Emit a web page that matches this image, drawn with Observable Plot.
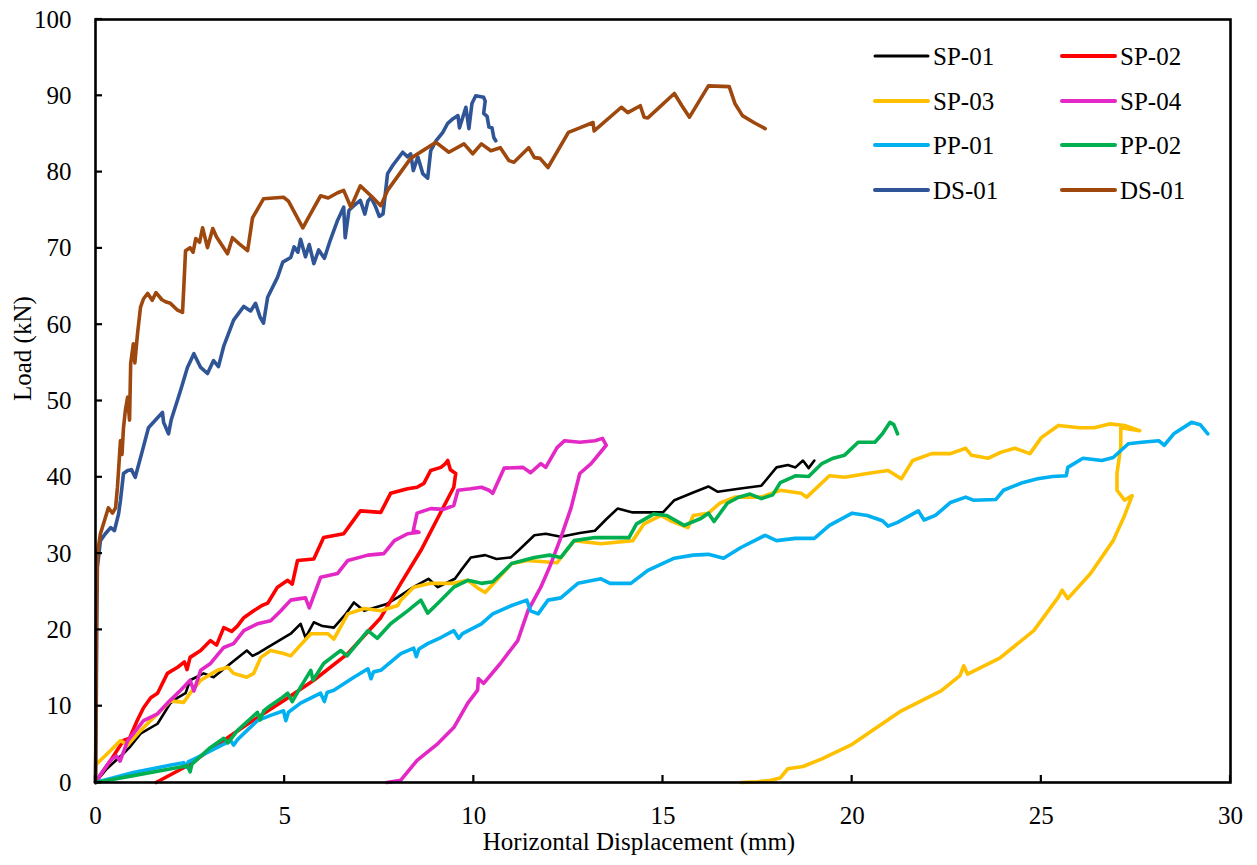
<!DOCTYPE html>
<html><head><meta charset="utf-8">
<script src="https://cdn.jsdelivr.net/npm/d3@7"></script>
<script src="https://cdn.jsdelivr.net/npm/@observablehq/plot@0.6"></script>
<style>body{margin:0;background:#fff} #chart{width:1257px;height:865px}</style>
</head><body><div id="chart"></div>
<script>
// Tick values
const xTicks = [0, 5, 10, 15, 20, 25, 30];
const yTicks = [0, 10, 20, 30, 40, 50, 60, 70, 80, 90, 100];

// Series labels (legend order)
const seriesLabels = ["SP-01", "SP-02", "SP-03", "SP-04", "PP-01", "PP-02", "DS-01", "DS-01"];

// [displacement mm, load kN]
const sp01 = [[0,0],[0.3,1.8],[0.74,3.8],[0.9,4.6],[1.19,6.4],[1.64,7.7],[1.98,10.4],[2.2,11.2],[2.38,11.7],[2.5,13.4],[2.86,14.3],[3.12,13.8],[3.57,15.6],[4.0,17.3],[4.15,16.6],[4.28,16.9],[4.55,17.7],[5.16,19.5],[5.42,20.8],[5.55,19],[5.77,21],[6.0,20.5],[6.3,20.3],[6.6,22],[6.83,23.6],[7.1,22.5],[7.7,23.4],[8.0,24.3],[8.4,25.6],[8.8,26.7],[9.05,25.6],[9.5,26.7],[9.66,27.8],[9.92,29.5],[10.3,29.8],[10.6,29.3],[10.98,29.5],[11.2,30.5],[11.6,32.4],[11.9,32.6],[12.3,32.2],[12.8,32.7],[13.2,33],[13.5,34.5],[13.8,35.9],[14.2,35.4],[15.0,35.4],[15.3,37],[15.8,38],[16.2,38.8],[16.45,38.1],[17.0,38.5],[17.6,38.9],[18.0,41.3],[18.3,41.6],[18.5,41.3],[18.7,42.2],[18.85,41.2],[19.0,42.2]];

const sp02 = [[0,0],[0.2,1.5],[0.4,2.9],[0.74,5.5],[0.9,5.8],[1.1,8.1],[1.27,9.8],[1.46,11.1],[1.64,11.7],[1.9,14.3],[2.17,15.1],[2.35,15.8],[2.42,14.8],[2.5,16.4],[2.78,17.3],[3.04,18.6],[3.2,18],[3.39,20.3],[3.6,19.8],[3.75,20.5],[3.92,21.6],[4.18,22.5],[4.4,23.2],[4.55,23.5],[4.81,25.6],[5.08,26.5],[5.2,26],[5.34,29.1],[5.77,29.3],[6.03,32.1],[6.56,32.6],[6.75,33.9],[7.0,35.6],[7.54,35.4],[7.8,37.9],[8.25,38.5],[8.5,38.7],[8.68,39.2],[8.86,40.9],[9.13,41.3],[9.25,41.8],[9.31,42.2],[9.38,41.0],[9.52,40.5],[9.47,38.7],[9.05,34.7],[8.6,30.4],[8.07,26.1],[7.54,21.6],[6.67,16.9],[5.77,13.4],[4.97,10.7],[4.0,7.6],[3.3,5.2],[2.43,2.2],[1.6,0]];

const sp03 = [[0,2.3],[0.4,4.2],[0.66,5.5],[0.85,4.9],[1.19,6.8],[1.64,9],[1.98,10.7],[2.33,10.5],[2.5,11.7],[2.78,13.4],[3.22,14.7],[3.5,15.1],[3.65,14.3],[4.0,13.8],[4.18,14.3],[4.37,16.4],[4.63,17.3],[4.97,16.9],[5.16,16.6],[5.69,19.5],[6.14,19.5],[6.3,18.8],[6.67,22.1],[7.1,22.8],[7.54,22.5],[7.99,23.2],[8.07,23.9],[8.41,25.6],[8.86,26.1],[9.47,26.1],[9.84,26.5],[10.1,25.5],[10.3,24.9],[10.6,26.5],[11.0,28.7],[11.43,29.1],[12.2,28.8],[12.65,31.7],[13.36,31.3],[14.2,31.7],[14.5,33.9],[14.95,35],[15.2,34.3],[15.66,33.4],[15.8,35],[16.2,35.3],[16.5,36.6],[16.9,37.4],[17.6,37.4],[18.1,38.3],[18.65,37.9],[18.8,37.4],[19.4,40.2],[19.8,40],[20.4,40.5],[20.95,40.9],[21.3,39.8],[21.6,42.2],[22.1,43.1],[22.6,43.1],[23.0,43.8],[23.15,42.9],[23.6,42.5],[23.94,43.3],[24.3,43.8],[24.7,43.1],[25.0,45.2],[25.45,46.8],[26.0,46.5],[26.4,46.5],[26.8,47],[27.2,46.8],[27.6,46.1],[27.1,46.5],[27.1,44],[27.0,40.5],[27.0,38.3],[27.2,37],[27.4,37.6],[27.2,35],[26.9,31.7],[26.3,27.4],[25.7,24.1],[25.55,25.2],[25.45,24.3],[24.8,19.9],[23.9,16.3],[23.05,14.2],[22.95,15.3],[22.85,14],[22.35,12],[21.3,9.4],[20,5],[19.2,3.1],[18.7,2.1],[18.3,1.8],[18.1,0.6],[17.85,0.3],[17.5,0.1],[17.06,0]];

const sp04 = [[0,0],[0.2,1.5],[0.4,2.9],[0.55,3.5],[0.65,2.8],[0.85,5.5],[1.0,6.4],[1.27,8.1],[1.64,9],[1.9,10.4],[2.25,12.1],[2.5,13.4],[2.6,12],[2.78,14.7],[3.04,15.6],[3.39,17.7],[3.65,18.2],[3.92,19.9],[4.28,20.8],[4.63,21.2],[4.9,22.5],[5.16,23.9],[5.4,24.1],[5.55,24.2],[5.65,22.9],[5.95,26.9],[6.4,27.4],[6.67,29.1],[7.2,29.8],[7.62,30],[7.9,31.7],[8.25,32.6],[8.55,32.8],[8.4,33],[8.5,35.3],[8.86,35.9],[9.2,35.8],[9.47,36.3],[9.58,38.3],[9.92,38.5],[10.2,38.7],[10.4,38.3],[10.5,37.9],[10.8,41.2],[11.3,41.3],[11.5,40.6],[11.77,41.8],[11.9,41.3],[12.2,43.9],[12.4,44.8],[12.8,44.6],[13.2,44.8],[13.4,45.1],[13.5,44.2],[13.1,41.8],[12.8,40.5],[12.57,36],[12.3,32.1],[12.0,28.2],[11.77,25.6],[11.43,22.5],[11.16,18.6],[10.7,15.6],[10.26,13],[10.12,13.6],[10.1,12.1],[9.84,10.4],[9.47,7.2],[9.05,5.1],[8.5,2.9],[8.07,0.3],[7.7,0]];

const pp01 = [[0,0],[1.0,1.3],[2.0,2.3],[2.33,2.6],[2.4,2.0],[2.45,2.7],[2.7,3.3],[3.22,4.6],[3.57,5.5],[3.65,4.9],[3.75,5.6],[4.0,6.8],[4.28,8.1],[4.63,8.8],[4.97,9.4],[5.03,8.1],[5.1,9.2],[5.42,10.4],[5.95,11.7],[6.05,10.6],[6.12,11.8],[6.3,12.1],[6.83,13.8],[7.2,14.9],[7.28,13.6],[7.35,14.5],[7.54,14.7],[8.07,16.9],[8.41,17.6],[8.48,16.5],[8.55,17.5],[8.78,18.2],[9.13,19],[9.47,19.9],[9.6,18.9],[9.7,19.5],[10.2,20.8],[10.5,22.1],[11.0,23.2],[11.4,23.9],[11.5,22.5],[11.7,22.1],[11.96,23.9],[12.3,24.2],[12.75,26.1],[13.36,26.7],[13.6,26.1],[14.15,26.1],[14.6,27.8],[15.3,29.4],[15.8,29.8],[16.2,29.9],[16.6,29.4],[17.06,30.8],[17.7,32.4],[18.0,31.7],[18.5,32],[19.0,32],[19.4,33.7],[20.0,35.3],[20.4,35],[20.8,34.3],[20.95,33.6],[21.2,34.1],[21.75,35.6],[21.9,34.4],[22.2,35],[22.6,36.7],[23.0,37.4],[23.2,37.0],[23.8,37.1],[24.0,38.3],[24.5,39.3],[24.9,39.8],[25.3,40.1],[25.66,40.2],[25.7,41.3],[26.1,42.5],[26.6,42.2],[26.9,42.6],[27.3,44.4],[27.65,44.6],[28.1,44.8],[28.25,44.2],[28.5,45.7],[28.97,47.2],[29.2,46.9],[29.4,45.7]];

const pp02 = [[0,0],[1.0,0.9],[2.0,1.8],[2.43,2.2],[2.5,1.4],[2.55,2.4],[3.04,4.6],[3.39,5.8],[3.5,5.2],[3.75,6.8],[4.28,9.2],[4.35,8.2],[4.45,9.4],[4.63,10.1],[4.9,11],[5.08,11.7],[5.2,10.6],[5.42,12.5],[5.69,14.7],[5.75,13.4],[6.03,15.6],[6.48,17.3],[6.65,16.6],[7.2,19.9],[7.45,18.9],[7.8,20.8],[8.25,22.5],[8.6,23.9],[8.78,22.2],[9.05,23.5],[9.47,25.6],[9.84,26.5],[10.2,26.1],[10.5,26.3],[11.0,28.7],[11.6,29.5],[12.0,29.8],[12.3,29.5],[12.65,31.7],[13.2,32.1],[14.1,32.1],[14.3,33.9],[14.76,35.2],[15.1,35],[15.56,33.7],[16.0,34.6],[16.2,35.3],[16.35,34.2],[16.7,36.6],[17.0,37.4],[17.3,37.8],[17.6,37.2],[17.9,37.7],[18.1,39.3],[18.5,40.2],[18.85,40.1],[19.2,41.8],[19.5,42.5],[19.8,42.9],[20.16,44.6],[20.6,44.6],[20.8,45.7],[21.0,47.2],[21.1,46.9],[21.2,45.7]];

const ds01a = [[0,0],[0.02,10],[0.03,20],[0.05,28.2],[0.13,31.7],[0.26,32.6],[0.4,33.4],[0.5,33],[0.61,35.2],[0.66,37],[0.74,40.5],[0.85,40.9],[0.95,41],[1.05,40],[1.24,43.5],[1.4,46.5],[1.64,47.8],[1.77,48.5],[1.8,47.2],[1.93,45.7],[2.0,47.5],[2.25,51.4],[2.43,54.4],[2.6,56.2],[2.78,54.4],[2.96,53.6],[3.12,55.3],[3.25,54.5],[3.39,57.2],[3.65,60.6],[3.92,62.4],[4.1,61.8],[4.23,62.8],[4.35,61],[4.44,60.2],[4.55,63.6],[4.81,66.2],[4.95,68.2],[5.16,68.8],[5.25,70.2],[5.35,69.5],[5.42,71.2],[5.55,68.9],[5.65,70.5],[5.77,68],[5.9,69.8],[6.05,68.7],[6.2,71],[6.4,73.7],[6.56,75.4],[6.6,71.4],[6.7,75],[6.83,75.6],[7.0,76.3],[7.12,74.5],[7.2,76.2],[7.28,76.7],[7.4,75.5],[7.5,74.2],[7.6,74.5],[7.72,79.8],[7.86,80.9],[8.12,82.6],[8.25,82],[8.33,82.4],[8.4,80.2],[8.52,82],[8.65,79.8],[8.78,79.2],[8.86,82.8],[9.0,84.1],[9.18,85.2],[9.31,86.4],[9.45,87],[9.58,87.4],[9.62,85.8],[9.79,88.5],[9.87,85.7],[9.95,89],[10.05,90],[10.26,89.8],[10.3,89.3],[10.26,87.7],[10.35,87.3],[10.4,85.9],[10.48,85.8],[10.53,84.5],[10.58,84.1]];

const ds01b = [[0,0],[0.02,15],[0.03,24],[0.05,30],[0.13,32.6],[0.26,34.7],[0.34,36],[0.45,35.3],[0.53,36],[0.58,38.7],[0.63,42.5],[0.66,44.8],[0.7,43],[0.74,46.5],[0.79,48.8],[0.85,50.5],[0.9,47.5],[0.93,54.9],[1.0,57.5],[1.04,55],[1.11,58.8],[1.19,62.3],[1.27,63.4],[1.38,64.1],[1.5,63.2],[1.6,64.2],[1.75,63.3],[1.85,63],[1.98,62.8],[2.17,61.9],[2.3,61.6],[2.33,64.5],[2.38,69.7],[2.5,70.1],[2.58,69.5],[2.65,71.3],[2.75,70.8],[2.83,72.7],[2.96,70.1],[3.1,72.6],[3.2,71.5],[3.49,69.3],[3.62,71.4],[3.8,70.6],[4.02,69.7],[4.15,74],[4.44,76.5],[4.97,76.7],[5.1,76.2],[5.48,72.7],[5.69,74.6],[5.95,76.9],[6.15,76.6],[6.4,77.3],[6.56,77.6],[6.75,75.4],[7.0,78.2],[7.3,76.8],[7.54,75.6],[7.72,77.6],[8.33,81.8],[9.0,83.9],[9.34,82.6],[9.74,83.7],[9.97,82.4],[10.2,83.7],[10.45,82.8],[10.7,83.2],[10.93,81.5],[11.06,81.3],[11.45,83.2],[11.6,81.9],[11.75,81.8],[11.96,80.6],[12.5,85.2],[12.75,85.7],[13.15,86.5],[13.18,85.4],[13.9,88.5],[14.07,87.8],[14.4,88.7],[14.5,87.2],[14.6,87.1],[15.3,90.3],[15.5,88.7],[15.7,87.2],[16.2,91.3],[16.75,91.2],[16.9,89],[17.1,87.4],[17.4,86.5],[17.7,85.7]];

const seriesData = [sp01, sp02, sp03, sp04, pp01, pp02, ds01a, ds01b];
const colors = ["#000000", "#FF0000", "#FFC000", "#E328C6", "#00B0F0", "#00B050", "#2F5597", "#9E480E"];
const widths = [2.6, 3.6, 3.6, 3.6, 3.6, 3.6, 3.6, 3.6];

const FONT = "'Liberation Serif', 'Times New Roman', serif";

const marks = [];
seriesData.forEach((data, i) => {
  marks.push(Plot.line(data, {x: d => d[0], y: d => d[1], stroke: colors[i], strokeWidth: widths[i], strokeLinejoin: "round", strokeLinecap: "round"}));
});

const W = 1257, H = 865, ML = 95, MR = 27, MT = 19, MB = 83, TICK = 7;

const chart = Plot.plot({
  width: W,
  height: H,
  marginLeft: ML,
  marginRight: MR,
  marginTop: MT,
  marginBottom: MB,
  style: {fontFamily: FONT, fontSize: "25px", color: "#000", background: "#fff"},
  x: {domain: [0, 30]},
  y: {domain: [0, 100]},
  marks: [
    ...marks,
    Plot.frame({stroke: "#000", strokeWidth: 2.6}),
    Plot.axisX({ticks: xTicks, tickSize: 0, tickPadding: 24, fontSize: 25, fontFamily: FONT, label: null, tickFormat: d => String(d)}),
    Plot.axisY({ticks: yTicks, tickSize: 0, tickPadding: 24, fontSize: 25, fontFamily: FONT, label: null, tickFormat: d => String(d)}),
    Plot.text(["Load (kN)"], {frameAnchor: "left", dx: -73, rotate: -90, fontSize: 25, fontFamily: FONT, fill: "#000"}),
    Plot.text(["Horizontal Displacement (mm)"], {frameAnchor: "bottom", dx: -24, dy: 67, fontSize: 25, fontFamily: FONT, fill: "#000"})
  ]
});

document.getElementById("chart").appendChild(chart);

const svg = d3.select(chart);
const xs = chart.scale("x"), ys = chart.scale("y");

// inward tick marks, placed through Plot's own scales
const tg = svg.append("g").attr("stroke", "#000").attr("stroke-width", 2.2);
xTicks.forEach(t => {
  const px = xs.apply(t);
  tg.append("line").attr("x1", px).attr("x2", px).attr("y1", H - MB).attr("y2", H - MB - TICK);
});
yTicks.forEach(t => {
  const py = ys.apply(t);
  tg.append("line").attr("x1", ML).attr("x2", ML + TICK).attr("y1", py).attr("y2", py);
});

// Legend inside the plot area (two columns, four rows)
const lg = svg.append("g").attr("font-family", FONT).attr("font-size", 25).attr("text-anchor", "start");
const colX = [875, 1062];
const rowY = [56, 101, 145, 190];
seriesLabels.forEach((lab, i) => {
  const cx = colX[i % 2], cy = rowY[Math.floor(i / 2)];
  lg.append("line").attr("x1", cx).attr("x2", cx + 53).attr("y1", cy).attr("y2", cy)
    .attr("stroke", colors[i]).attr("stroke-width", i === 0 ? 3 : 4).attr("stroke-linecap", "round");
  lg.append("text").attr("x", cx + 58).attr("y", cy + 9).attr("fill", "#000").attr("text-anchor", "start").text(lab);
});
</script>
</body></html>
